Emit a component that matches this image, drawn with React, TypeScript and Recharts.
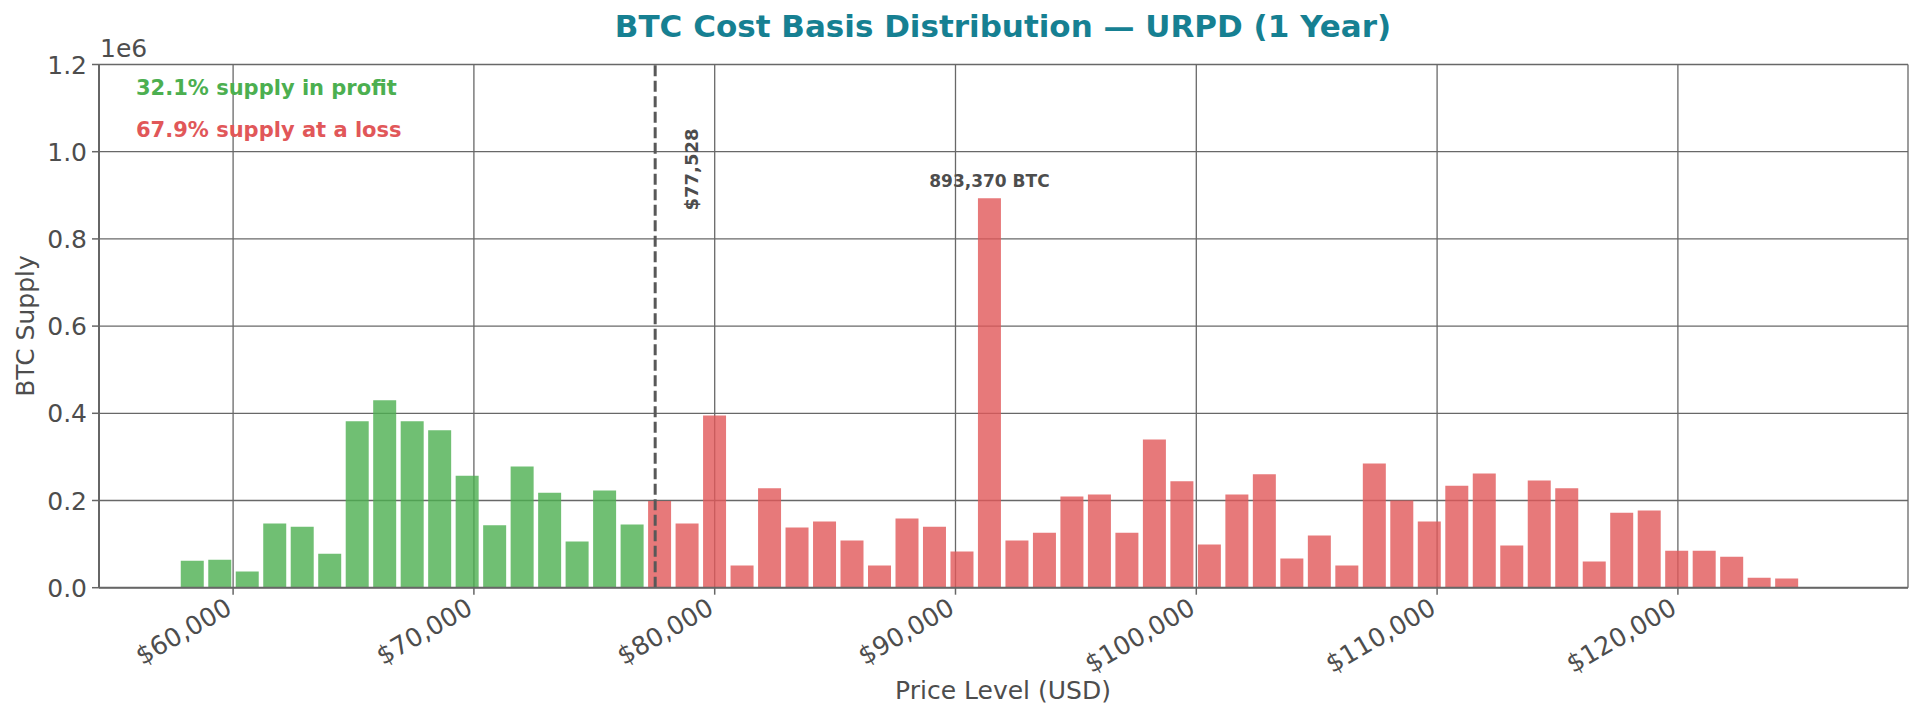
import React from 'react';
import { BarChart, Bar, XAxis, YAxis, CartesianGrid, ReferenceLine, Cell, LabelList } from 'recharts';

const prices = [
  58314, 59456, 60597, 61739, 62880, 64022, 65164, 66305, 67447, 68588,
  69730, 70872, 72013, 73155, 74296, 75438, 76580, 77721, 78863, 80004,
  81146, 82288, 83429, 84571, 85712, 86854, 87996, 89137, 90279, 91420,
  92562, 93704, 94845, 95987, 97128, 98270, 99412, 100553, 101695, 102836,
  103978, 105120, 106261, 107403, 108544, 109686, 110828, 111969, 113111, 114252,
  115394, 116536, 117677, 118819, 119960, 121102, 122244, 123385, 124527,
];

const supply = [
  62000, 64000, 37000, 147000, 140000, 78000, 382000, 430000, 382000, 361000,
  257000, 143000, 278000, 218000, 106000, 223000, 145000, 199000, 147000, 395000,
  51000, 228000, 138000, 152000, 108000, 51000, 159000, 140000, 83000, 893370,
  108000, 126000, 209000, 214000, 126000, 340000, 244000, 99000, 214000, 260000,
  67000, 120000, 51000, 285000, 200000, 152000, 234000, 262000, 97000, 246000,
  228000, 60000, 172000, 177000, 85000, 85000, 71000, 23000, 21000,
];

const currentPrice = 77528;
const xTicks = [60000, 70000, 80000, 90000, 100000, 110000, 120000];
const xMinorTicks = [
  56000, 58000, 62000, 64000, 66000, 68000, 72000, 74000, 76000, 78000,
  82000, 84000, 86000, 88000, 92000, 94000, 96000, 98000, 102000, 104000,
  106000, 108000, 112000, 114000, 116000, 118000, 122000, 124000, 126000, 128000,
];
const yTicks = [0, 200000, 400000, 600000, 800000, 1000000, 1200000];
const yMinorTicks = [
  50000, 100000, 150000, 250000, 300000, 350000, 450000, 500000, 550000,
  650000, 700000, 750000, 850000, 900000, 950000, 1050000, 1100000, 1150000,
];
const titleText = 'BTC Cost Basis Distribution — URPD (1 Year)';
const profitText = '32.1% supply in profit';
const lossText = '67.9% supply at a loss';

const data = prices.map((p, i) => ({ price: p, supply: supply[i] }));
const maxSupply = Math.max(...supply);

const FONT = "'DejaVu Sans', sans-serif";
const GREEN = '#4caf50';
const RED = '#e15759';
const TEXT = '#4d4d4d';

const XTick = (props: any) => {
  const { x, y, payload } = props;
  const ax = x + 0.5;
  const ay = y + 18;
  return (
    <text x={ax} y={ay} transform={`rotate(-30 ${ax} ${ay})`} textAnchor="end" fontSize={25.5} fill={TEXT} fontFamily={FONT}>
      {'$' + Number(payload.value).toLocaleString('en-US')}
    </text>
  );
};

const YTick = (props: any) => {
  const { x, y, payload } = props;
  return (
    <text x={x} y={y} dy="0.36em" textAnchor="end" fontSize={25} fill={TEXT} fontFamily={FONT}>
      {(Number(payload.value) / 1e6).toFixed(1)}
    </text>
  );
};

const PeakLabel = (props: any) => {
  const { x, y, width, value } = props;
  if (Number(value) !== maxSupply) return null;
  return (
    <text x={Number(x) + Number(width) / 2} y={Number(y) - 11} textAnchor="middle" fontSize={17} fontWeight="bold" fill={TEXT} fontFamily={FONT}>
      {Number(value).toLocaleString('en-US') + ' BTC'}
    </text>
  );
};

const PriceLabel = (props: any) => {
  const vb = props.viewBox || {};
  const lx = Number(vb.x) + 43;
  const ly = Number(vb.y) + 146;
  return (
    <text x={lx} y={ly} transform={`rotate(-90 ${lx} ${ly})`} textAnchor="start" fontSize={18} fontWeight="bold" fill={TEXT} fontFamily={FONT}>
      {'$' + currentPrice.toLocaleString('en-US')}
    </text>
  );
};

export default function App() {
  return (
    <div style={{ position: 'absolute', left: 0, top: 0, width: 1923, height: 719, background: '#fff' }}>
      <BarChart
        width={1923}
        height={719}
        data={data}
        margin={{ top: 64.5, right: 15, left: 0, bottom: 0 }}
        barSize={23}
      >
        <CartesianGrid stroke="#686868" strokeWidth={1.3} />
        <XAxis
          xAxisId="minor"
          type="number"
          dataKey="price"
          domain={[54431, 129556]}
          allowDataOverflow
          ticks={xMinorTicks}
          tick={false}
          tickSize={4}
          tickLine={{ stroke: '#c9c9e3', strokeWidth: 1 }}
          axisLine={false}
          height={0}
        />
        <XAxis
          type="number"
          dataKey="price"
          domain={[54431, 129556]}
          allowDataOverflow
          ticks={xTicks}
          tick={<XTick />}
          tickSize={7}
          tickMargin={0}
          tickLine={{ stroke: '#666', strokeWidth: 1.5 }}
          axisLine={{ stroke: '#666', strokeWidth: 2 }}
          height={131.3}
          interval={0}
        />
        <YAxis
          yAxisId="minor"
          type="number"
          domain={[0, 1200000]}
          allowDataOverflow
          ticks={yMinorTicks}
          tick={false}
          tickSize={4}
          tickLine={{ stroke: '#c9c9e3', strokeWidth: 1 }}
          axisLine={false}
          width={0}
        />
        <YAxis
          type="number"
          domain={[0, 1200000]}
          allowDataOverflow
          ticks={yTicks}
          tick={<YTick />}
          tickSize={7}
          tickMargin={5}
          tickLine={{ stroke: '#666', strokeWidth: 1.5 }}
          axisLine={{ stroke: '#666', strokeWidth: 2 }}
          width={99}
          interval={0}
        />
        <Bar dataKey="supply" isAnimationActive={false} fillOpacity={0.8}>
          {data.map((d, i) => (
            <Cell key={i} fill={d.price < currentPrice ? GREEN : RED} />
          ))}
          <LabelList dataKey="supply" content={<PeakLabel />} />
        </Bar>
        <ReferenceLine
          x={currentPrice}
          stroke="#585858"
          strokeWidth={3}
          strokeDasharray="11 4.5"
          label={<PriceLabel />}
        />
      </BarChart>
      <svg width={1923} height={719} style={{ position: 'absolute', left: 0, top: 0, pointerEvents: 'none' }}>
        <text x={1003} y={37} textAnchor="middle" fontSize={31} fontWeight="bold" fill="#168092" fontFamily={FONT}>
          {titleText}
        </text>
        <text x={100} y={57} fontSize={25} fill={TEXT} fontFamily={FONT}>1e6</text>
        <text x={136} y={95} fontSize={21} fontWeight="bold" fill={GREEN} fontFamily={FONT}>{profitText}</text>
        <text x={136} y={137} fontSize={21} fontWeight="bold" fill={RED} fontFamily={FONT}>{lossText}</text>
        <text x={34} y={326} transform="rotate(-90 34 326)" textAnchor="middle" fontSize={25} fill={TEXT} fontFamily={FONT}>
          BTC Supply
        </text>
        <text x={1003} y={699} textAnchor="middle" fontSize={25} fill={TEXT} fontFamily={FONT}>
          Price Level (USD)
        </text>
      </svg>
    </div>
  );
}
